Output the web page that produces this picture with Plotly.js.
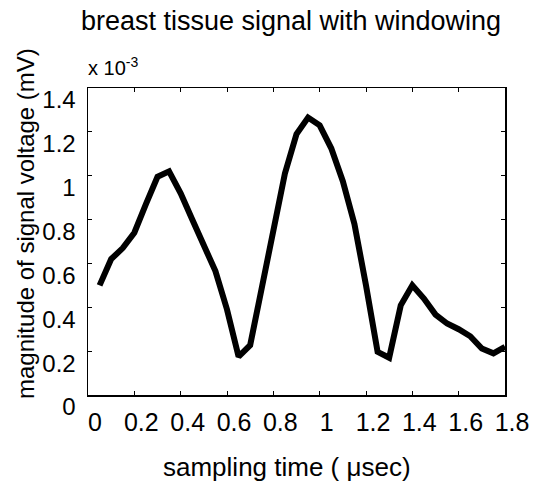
<!DOCTYPE html>
<html>
<head>
<meta charset="utf-8">
<script src="https://cdn.plot.ly/plotly-3.0.1.min.js"></script>
<style>html,body{margin:0;padding:0;background:#fff;}#chart{width:534px;height:483px;}</style>
</head>
<body>
<div id="chart"></div>
<script>
// sampling time (µsec)
const timeUs = [0.05,0.10,0.15,0.20,0.25,0.30,0.35,0.40,0.45,0.50,0.55,0.60,0.65,0.70,0.75,0.80,0.85,0.90,0.95,1.00,1.05,1.10,1.15,1.20,1.25,1.30,1.35,1.40,1.45,1.50,1.55,1.60,1.65,1.70,1.75,1.80];
// magnitude of signal voltage (mV), in units of 1e-3
const magnitude = [0.50,0.62,0.67,0.74,0.87,0.995,1.02,0.92,0.80,0.674,0.565,0.39,0.175,0.227,0.495,0.77,1.01,1.19,1.265,1.23,1.125,0.975,0.78,0.50,0.197,0.17,0.409,0.50,0.44,0.367,0.326,0.30,0.268,0.212,0.19,0.22];
const xTicks = [0,0.2,0.4,0.6,0.8,1,1.2,1.4,1.6,1.8];
const xTickText = ['0','0.2','0.4','0.6','0.8','1','1.2','1.4','1.6','1.8'];
const yTicks = [0,0.2,0.4,0.6,0.8,1,1.2,1.4];
const yTickText = ['0','0.2','0.4','0.6','0.8','1','1.2','1.4'];

const font = 'Liberation Sans, Arial, sans-serif';

const trace = {
  x: timeUs, y: magnitude, type: 'scatter', mode: 'lines',
  line: {color: '#000000', width: 6},
  hoverinfo: 'skip'
};

const layout = {
  width: 534, height: 483,
  margin: {l: 88, r: 29, t: 88, b: 88},
  paper_bgcolor: '#ffffff', plot_bgcolor: '#ffffff',
  showlegend: false,
  font: {family: font, color: '#000000'},
  title: {text: 'breast tissue signal with windowing', font: {family: font, size: 27, color: '#000'},
          x: 0.545, xanchor: 'center', y: 0.958, yanchor: 'middle'},
  xaxis: {
    range: [0, 1.8], tickvals: xTicks, ticktext: xTickText,
    ticks: 'inside', ticklen: 4, tickwidth: 1, tickcolor: '#000',
    showline: true, linecolor: '#000', linewidth: 1.5, mirror: 'ticks',
    showgrid: false, zeroline: false,
    tickfont: {family: font, size: 25, color: '#000'},
    ticklabelshift: 7, ticklabelstandoff: 4
  },
  yaxis: {
    range: [0, 1.4], tickvals: yTicks, ticktext: yTickText,
    ticks: 'inside', ticklen: 4, tickwidth: 1, tickcolor: '#000',
    showline: true, linecolor: '#000', linewidth: 1.5, mirror: 'ticks',
    showgrid: false, zeroline: false,
    tickfont: {family: font, size: 24, color: '#000'},
    ticklabelshift: 12, ticklabelstandoff: 6
  },
  annotations: [
    {
      text: 'x 10<sup>-3</sup>', xref: 'paper', yref: 'paper', x: 0, y: 1, xanchor: 'left', yanchor: 'bottom',
      yshift: 7, xshift: -2, showarrow: false, font: {family: font, size: 20, color: '#000'}
    },
    {
      text: 'sampling time ( \u03bcsec)', xref: 'paper', yref: 'paper', x: (287 - 88) / 417, y: 0,
      xanchor: 'center', yanchor: 'middle', yshift: -72, showarrow: false,
      font: {family: font, size: 26, color: '#000'}
    },
    {
      text: 'magnitude of signal voltage (mV)', xref: 'paper', yref: 'paper', x: 0, y: (395 - 224) / 307,
      xanchor: 'center', yanchor: 'middle', xshift: -63, textangle: -90, showarrow: false,
      font: {family: font, size: 24, color: '#000'}
    }
  ]
};

Plotly.newPlot('chart', [trace], layout, {staticPlot: true, displayModeBar: false});
</script>
</body>
</html>
